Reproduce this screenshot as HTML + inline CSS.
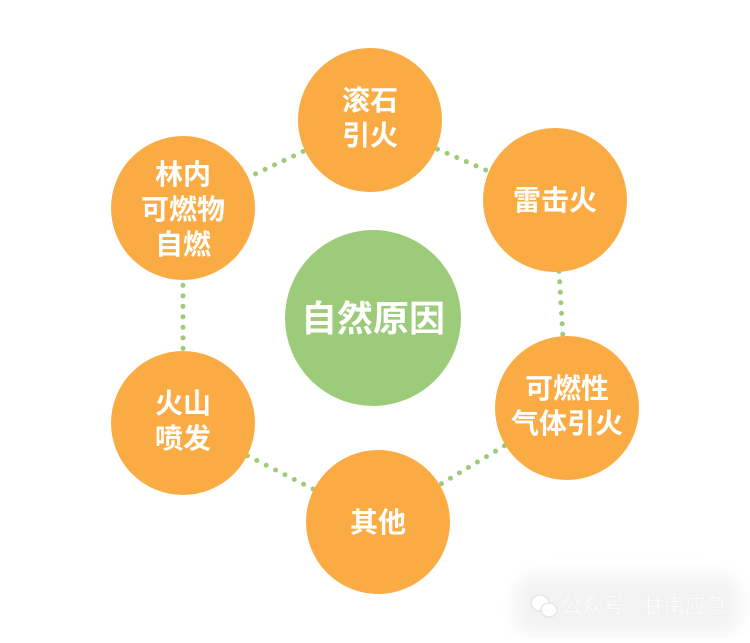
<!DOCTYPE html>
<html><head><meta charset="utf-8"><style>
body{margin:0;width:750px;height:638px;background:#fff;overflow:hidden}
svg text{font-family:"Liberation Sans","Noto Sans CJK SC",sans-serif;font-weight:bold;fill:#fff;text-anchor:middle}
</style></head><body>
<svg width="750" height="638" xmlns="http://www.w3.org/2000/svg">
<defs><filter id="b" x="-20%" y="-50%" width="140%" height="200%"><feGaussianBlur stdDeviation="8"/></filter></defs>
<rect x="515" y="575" width="225" height="60" rx="20" fill="#f3f3f3" filter="url(#b)"/>
<g stroke="#9dcb78" stroke-width="5" stroke-linecap="round" stroke-dasharray="0 10.5" fill="none">
<polyline points="370,120 555,200 567,408 378,522 183,423 183,208 370,120"/>
</g>
<circle cx="373" cy="318" r="88" fill="#9ccb7a"/>
<g fill="#fbab43">
<circle cx="370" cy="120" r="72"/>
<circle cx="555" cy="200" r="72"/>
<circle cx="567" cy="408" r="72"/>
<circle cx="378" cy="522" r="72"/>
<circle cx="183" cy="423" r="72"/>
<circle cx="183" cy="208" r="72"/>
</g>
<text x="373" y="331" font-size="36" font-weight="900">自然原因</text>
<g font-size="28" font-weight="900">
<text x="370" y="110">滚石</text><text x="370" y="145">引火</text>
<text x="555" y="210">雷击火</text>
<text x="567" y="398">可燃性</text><text x="567" y="433">气体引火</text>
<text x="378" y="532">其他</text>
<text x="183" y="413">火山</text><text x="183" y="448">喷发</text>
<text x="183" y="184">林内</text><text x="183" y="219">可燃物</text><text x="183" y="254">自燃</text>
</g>
<g fill="#fff" stroke="#e6e6e6" stroke-width="1.5">
<ellipse cx="540" cy="603" rx="9" ry="8"/><ellipse cx="549" cy="610" rx="8" ry="7"/>
</g>
<text x="644" y="613" font-size="21" style="font-weight:normal;fill:#fff;stroke:#eee;stroke-width:.5">公众号 · 甘南应急</text>
</svg>
</body></html>
